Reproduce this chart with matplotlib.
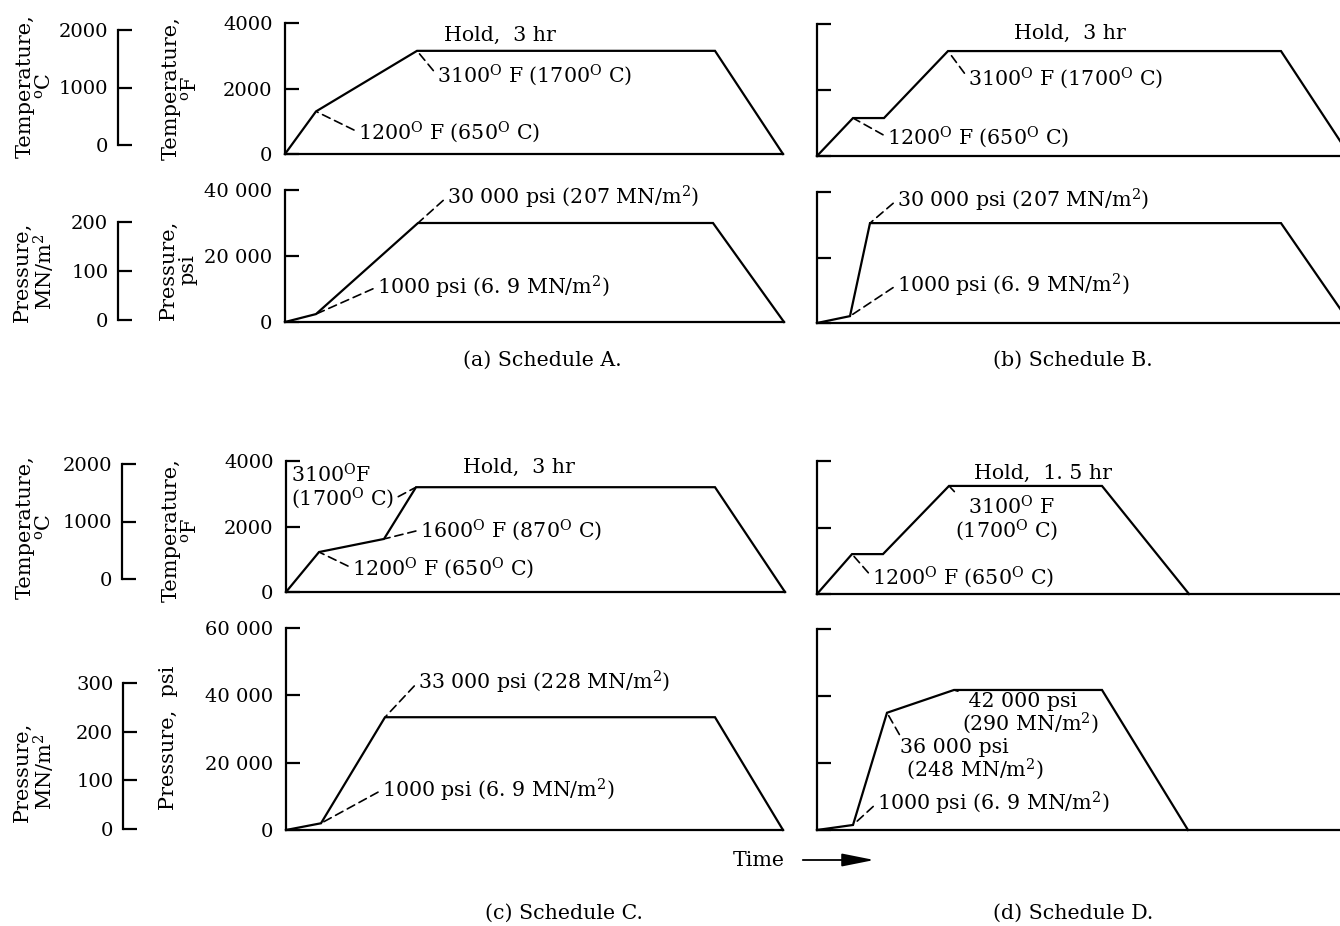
import matplotlib
matplotlib.use("Agg")
import matplotlib.pyplot as plt

plt.rcParams["font.family"] = ["DejaVu Serif"]
plt.rcParams["mathtext.fontset"] = "dejavuserif"

# ---------------- data (time in hours, schematic) ----------------
# Schedule A
a_temp_t = [0, 0.31, 1.32, 4.30, 4.98]
a_temp_F = [0, 1300, 3150, 3150, 0]
a_pres_t = [0, 0.31, 1.33, 4.28, 4.99]
a_pres_psi = [0, 2400, 30000, 30000, 0]
# Schedule B
b_temp_t = [0, 0.36, 0.67, 1.31, 4.64, 5.33]
b_temp_F = [0, 1150, 1150, 3180, 3180, 0]
b_pres_t = [0, 0.33, 0.53, 4.64, 5.33]
b_pres_psi = [0, 2100, 30500, 30500, 0]
# Schedule C
c_temp_t = [0, 0.33, 0.98, 1.30, 4.29, 4.99]
c_temp_F = [0, 1220, 1620, 3200, 3200, 0]
c_pres_t = [0, 0.35, 0.99, 4.29, 4.97]
c_pres_psi = [0, 2000, 33500, 33500, 0]
# Schedule D
d_temp_t = [0, 0.35, 0.66, 1.32, 2.85, 3.72]
d_temp_F = [0, 1200, 1200, 3250, 3250, 0]
d_pres_t = [0, 0.36, 0.70, 1.37, 2.85, 3.71]
d_pres_psi = [0, 1500, 35000, 41800, 41800, 0]

# ticks
tempF_ticks = [0, 2000, 4000]
tempF_labels = ["0", "2000", "4000"]
tempC_ticks = [0, 1000, 2000]
tempC_labels = ["0", "1000", "2000"]
psi_ticks_ab = [0, 20000, 40000]
psi_labels_ab = ["0", "20 000", "40 000"]
psi_ticks_cd = [0, 20000, 40000, 60000]
psi_labels_cd = ["0", "20 000", "40 000", "60 000"]
mn_ticks_a = [0, 100, 200]
mn_labels_a = ["0", "100", "200"]
mn_ticks_c = [0, 100, 200, 300]
mn_labels_c = ["0", "100", "200", "300"]

# ---------------- layout ----------------
W, H = 1340, 926
PX_PER_HR = 100
FS = 14.8
TFS = 14
LW = 1.6
fig = plt.figure(figsize=(W / 100, H / 100), dpi=100)
fig.patch.set_facecolor("white")


def add_ax(left, top, bottom, width):
    return fig.add_axes([left / W, (H - bottom) / H, width / W, (bottom - top) / H])


def main_ax(left, top, bottom, tmax, ymax, ticks, labels):
    ax = add_ax(left, top, bottom, tmax * PX_PER_HR)
    ax.set_xlim(0, tmax)
    ax.set_ylim(0, ymax)
    ax.patch.set_alpha(0)
    for s in ["top", "right"]:
        ax.spines[s].set_visible(False)
    for s in ["left", "bottom"]:
        ax.spines[s].set_linewidth(LW)
    ax.set_xticks([])
    ax.set_yticks(ticks)
    ax.set_yticklabels(labels if labels else [""] * len(ticks))
    ax.tick_params(axis="y", direction="in", length=10, width=LW, pad=9, labelsize=TFS)
    return ax


def side_ax(left, top, bottom, ymax, ticks, labels):
    ax = add_ax(left, top, bottom, 1)
    ax.set_ylim(0, ymax)
    ax.patch.set_alpha(0)
    for s in ["top", "right", "bottom"]:
        ax.spines[s].set_visible(False)
    ax.spines["left"].set_linewidth(LW)
    ax.set_xticks([])
    ax.set_yticks(ticks)
    ax.set_yticklabels(labels)
    ax.tick_params(axis="y", direction="in", length=10, width=LW, pad=7, labelsize=TFS)
    return ax


def curve(ax, t, v):
    ax.plot(t, v, color="black", lw=LW, clip_on=False, solid_joinstyle="miter")


def note(ax, text, xy, pos, relpos=(0, 0.5), ha="left", va="center", malign="left"):
    ax.annotate(text, xy=xy, xycoords="data", xytext=(pos[0], H - pos[1]),
                textcoords="figure pixels", ha=ha, va=va, fontsize=FS,
                multialignment=malign, linespacing=0.92,
                arrowprops=dict(arrowstyle="-", linestyle=(0, (5, 3)), lw=1.2,
                                color="black", relpos=relpos, shrinkA=1, shrinkB=1))


def ftext(text, pos, rot=0, ha="center", va="center", size=FS, ma="center"):
    fig.text(pos[0] / W, (H - pos[1]) / H, text, rotation=rot, ha=ha, va=va,
             fontsize=size, multialignment=ma, linespacing=1.0)


deg = r"$^{\mathrm{O}}$"
m2 = r"MN/m$^{2}$"

# ---------------- Schedule A ----------------
axAT = main_ax(285, 23, 154, 4.98, 4000, tempF_ticks, tempF_labels)
curve(axAT, a_temp_t, a_temp_F)
axAP = main_ax(285, 190, 322, 4.99, 40000, psi_ticks_ab, psi_labels_ab)
curve(axAP, a_pres_t, a_pres_psi)
side_ax(118, 30, 145, 2000, tempC_ticks, tempC_labels)
side_ax(118, 222, 320, 200, mn_ticks_a, mn_labels_a)

ftext("Hold,  3 hr", (500, 35))
note(axAT, f"3100{deg} F (1700{deg} C)", (a_temp_t[2], a_temp_F[2]), (437, 75))
note(axAT, f"1200{deg} F (650{deg} C)", (a_temp_t[1], a_temp_F[1]), (358, 132))
note(axAP, f"30 000 psi (207 {m2})", (a_pres_t[2], a_pres_psi[2]), (447, 197))
note(axAP, f"1000 psi (6. 9 {m2})", (a_pres_t[1], a_pres_psi[1]), (377, 287))
ftext("(a) Schedule A.", (542, 360))

# ---------------- Schedule B ----------------
axBT = main_ax(817, 24, 156, 5.4, 4000, tempF_ticks, None)
curve(axBT, b_temp_t, b_temp_F)
axBP = main_ax(817, 192, 323, 5.4, 40000, psi_ticks_ab, None)
curve(axBP, b_pres_t, b_pres_psi)

ftext("Hold,  3 hr", (1070, 33))
note(axBT, f"3100{deg} F (1700{deg} C)", (b_temp_t[3], b_temp_F[3]), (968, 78))
note(axBT, f"1200{deg} F (650{deg} C)", (b_temp_t[1], b_temp_F[1]), (887, 137))
note(axBP, f"30 000 psi (207 {m2})", (b_pres_t[2], b_pres_psi[2]), (897, 200))
note(axBP, f"1000 psi (6. 9 {m2})", (b_pres_t[1], b_pres_psi[1]), (897, 285))
ftext("(b) Schedule B.", (1073, 360))

# ---------------- Schedule C ----------------
axCT = main_ax(286, 461, 592, 4.99, 4000, tempF_ticks, tempF_labels)
curve(axCT, c_temp_t, c_temp_F)
axCP = main_ax(286, 628, 830, 4.97, 60000, psi_ticks_cd, psi_labels_cd)
curve(axCP, c_pres_t, c_pres_psi)
side_ax(122, 464, 579, 2000, tempC_ticks, tempC_labels)
side_ax(123, 683, 829, 300, mn_ticks_c, mn_labels_c)

ftext("Hold,  3 hr", (519, 467))
note(axCT, f"3100{deg}F\n(1700{deg} C)", (c_temp_t[3], c_temp_F[3]), (291, 487), relpos=(1, 0.25))
note(axCT, f"1600{deg} F (870{deg} C)", (c_temp_t[2], c_temp_F[2]), (420, 530))
note(axCT, f"1200{deg} F (650{deg} C)", (c_temp_t[1], c_temp_F[1]), (352, 568))
note(axCP, f"33 000 psi (228 {m2})", (c_pres_t[2], c_pres_psi[2]), (418, 682))
note(axCP, f"1000 psi (6. 9 {m2})", (c_pres_t[1], c_pres_psi[1]), (382, 790))
ftext("(c) Schedule C.", (564, 913))

# ---------------- Schedule D ----------------
axDT = main_ax(817, 461, 594, 5.3, 4000, tempF_ticks, None)
curve(axDT, d_temp_t, d_temp_F)
axDP = main_ax(817, 629, 830, 5.3, 60000, psi_ticks_cd, None)
curve(axDP, d_pres_t, d_pres_psi)

ftext("Hold,  1. 5 hr", (1043, 473))
note(axDT, f"  3100{deg} F\n(1700{deg} C)", (d_temp_t[3], d_temp_F[3]), (955, 519), relpos=(0.05, 0.95))
note(axDT, f"1200{deg} F (650{deg} C)", (d_temp_t[1], d_temp_F[1]), (872, 577))
note(axDP, f" 42 000 psi\n(290 {m2})", (d_pres_t[3], d_pres_psi[3]), (962, 714), relpos=(0.05, 0.95))
note(axDP, f"36 000 psi\n (248 {m2})", (d_pres_t[2], d_pres_psi[2]), (900, 760), relpos=(0.02, 0.95))
note(axDP, f"1000 psi (6. 9 {m2})", (d_pres_t[1], d_pres_psi[1]), (877, 803))
ftext("(d) Schedule D.", (1073, 913))

# ---------------- axis titles ----------------
AFS = 15
ftext("Temperature,\n" + r"$^{\mathrm{o}}$C", (35, 86), rot=90, size=AFS)
ftext("Temperature,\n" + r"$^{\mathrm{o}}$F", (181, 88), rot=90, size=AFS)
ftext("Pressure,\n" + m2, (35, 272), rot=90, size=AFS)
ftext("Pressure,\npsi", (178, 270), rot=90, size=AFS)
ftext("Temperature,\n" + r"$^{\mathrm{o}}$C", (35, 527), rot=90, size=AFS)
ftext("Temperature,\n" + r"$^{\mathrm{o}}$F", (181, 530), rot=90, size=AFS)
ftext("Pressure,\n" + m2, (35, 772), rot=90, size=AFS)
ftext("Pressure,  psi", (168, 738), rot=90, size=AFS)

# time arrow
ftext("Time", (733, 860), ha="left")
fig.add_artist(matplotlib.patches.FancyArrowPatch(
    (800 / W, (H - 860) / H), (877 / W, (H - 860) / H), transform=fig.transFigure,
    arrowstyle="-|>,head_length=1.1,head_width=0.22", lw=1.3, color="black",
    mutation_scale=18))

fig.savefig("out.png", dpi=100, facecolor="white")
